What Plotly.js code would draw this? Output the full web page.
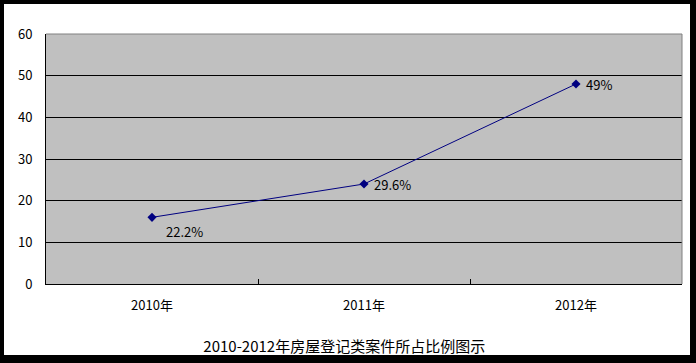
<!DOCTYPE html>
<html>
<head>
<meta charset="utf-8">
<script src="https://cdn.plot.ly/plotly-3.0.1.min.js"></script>
<style>
html,body{margin:0;padding:0;background:#fff;}
#frame{position:absolute;left:0;top:0;width:696px;height:363px;background:#000;}
#chart{position:absolute;left:4px;top:4px;width:686px;height:351px;background:#fff;}
</style>
</head>
<body>
<div id="frame"><div id="chart"></div></div>
<script>
const categories = ["2010年", "2011年", "2012年"];
const values = [16, 24, 48];
const labels = ["22.2%", "29.6%", "49%"];
const yTicks = [0, 10, 20, 30, 40, 50, 60];
const chartTitle = "2010-2012年房屋登记类案件所占比例图示";

const FONT = "SimSun, 'Noto Sans CJK SC', 'DejaVu Sans', sans-serif";

const trace = {
  type: "scatter",
  mode: "lines+markers",
  x: categories,
  y: values,
  line: {color: "#000080", width: 1},
  marker: {symbol: "diamond", size: 7, color: "#000080"},
  cliponaxis: false,
  hoverinfo: "none"
};

const labelShifts = [[12, -14], [8, 0], [8, 0]];
const annotations = categories.map((c, i) => ({
  x: c, y: values[i], xref: "x", yref: "y",
  text: labels[i], showarrow: false,
  xanchor: "left", yanchor: "middle",
  xshift: labelShifts[i][0], yshift: labelShifts[i][1],
  font: {family: FONT, size: 13, color: "#000"}
}));

const layout = {
  width: 686,
  height: 351,
  margin: {l: 42, r: 8, t: 30, b: 71},
  paper_bgcolor: "#ffffff",
  plot_bgcolor: "#c0c0c0",
  showlegend: false,
  font: {family: FONT, size: 13, color: "#000"},
  title: {
    text: chartTitle,
    font: {family: FONT, size: 15, color: "#000"},
    xref: "container", x: 0.496, xanchor: "center",
    yref: "container", y: 0.023, yanchor: "middle"
  },
  annotations: annotations,
  xaxis: {
    type: "category",
    range: [-0.5, 2.5],
    tickson: "boundaries",
    ticks: "inside",
    ticklen: 5,
    tickcolor: "#000",
    showline: true,
    linecolor: "#000",
    linewidth: 1,
    showgrid: false,
    zeroline: false,
    ticklabelstandoff: 9,
    tickfont: {family: FONT, size: 13, color: "#000"}
  },
  yaxis: {
    range: [0, 60],
    tickvals: yTicks,
    ticks: "",
    showline: true,
    linecolor: "#000",
    linewidth: 1,
    showgrid: true,
    gridcolor: "#000",
    gridwidth: 1,
    zeroline: false,
    ticklabelstandoff: 10,
    tickfont: {family: FONT, size: 13, color: "#000"}
  },
  shapes: [{
    type: "line", xref: "paper", yref: "paper",
    x0: 0, x1: 1, y0: 1, y1: 1,
    line: {color: "#808080", width: 1},
    layer: "above"
  }, {
    type: "line", xref: "paper", yref: "paper",
    x0: 1, x1: 1, y0: 0, y1: 1,
    line: {color: "#808080", width: 1},
    layer: "above"
  }]
};

Plotly.newPlot("chart", [trace], layout, {displayModeBar: false, staticPlot: true});
</script>
</body>
</html>
